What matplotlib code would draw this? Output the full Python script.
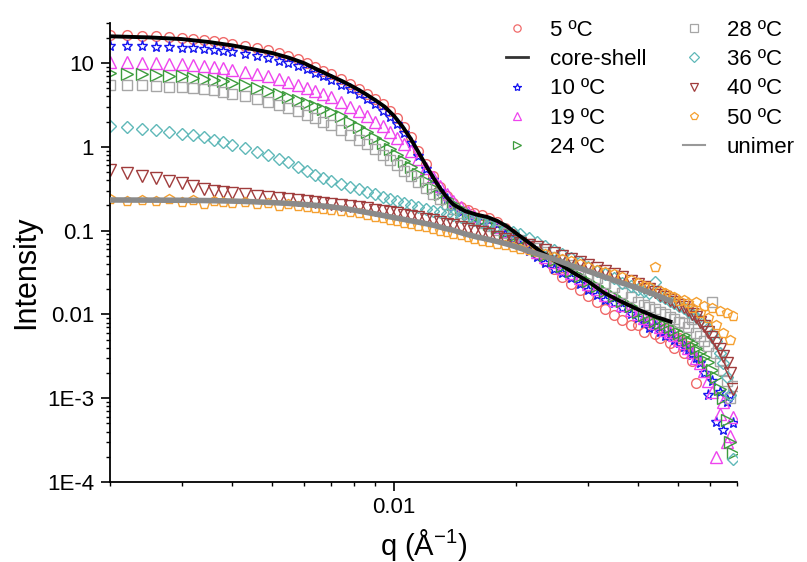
import numpy as np
import matplotlib
matplotlib.use('Agg')
import matplotlib.pyplot as plt
from matplotlib.lines import Line2D
from matplotlib.ticker import LogLocator, NullFormatter, FuncFormatter

plt.rcParams['font.family'] = ['Liberation Sans', 'DejaVu Sans']
plt.rcParams['mathtext.fontset'] = 'custom'
plt.rcParams['mathtext.rm'] = 'Liberation Sans'
plt.rcParams['mathtext.it'] = 'Liberation Sans:italic'

# q values of the measured points (1/A)
q_pts = [0.0020, 0.0022, 0.0024, 0.0026, 0.0028, 0.0030, 0.0032, 0.0034, 0.0036, 0.0038, 0.0040,
         0.0043, 0.0046, 0.0049, 0.0052, 0.0055, 0.0058, 0.0061, 0.0064, 0.0067, 0.0070,
         0.0074, 0.0078, 0.0082, 0.0086, 0.0090, 0.0094, 0.0098, 0.0102, 0.0106, 0.0110,
         0.0115, 0.0120, 0.0125, 0.0130, 0.0135, 0.0140, 0.0146, 0.0152, 0.0158, 0.0165,
         0.0172, 0.0180, 0.0188, 0.0196, 0.0205, 0.0215, 0.0225, 0.0236, 0.0248, 0.0260,
         0.0273, 0.0287, 0.0301, 0.0316, 0.0332, 0.0348, 0.0365, 0.0383,
         0.0400, 0.0413, 0.0426, 0.0439, 0.0452, 0.0465, 0.0478, 0.0491, 0.0504, 0.0517,
         0.0530, 0.0543, 0.0556, 0.0569, 0.0582, 0.0595, 0.0608, 0.0621, 0.0634, 0.0647,
         0.0660, 0.0673, 0.0686]

# intensities, one list per temperature
I_5 = [21.8, 21.5, 21.2, 20.9, 20.5, 20.1, 19.5, 18.9, 18.3, 17.6, 16.9,
       15.9, 15.0, 14.1, 13.2, 12.2, 11.1, 10.1, 9.0, 8.1, 7.3,
       6.4, 5.6, 4.9, 4.3, 3.7, 3.2, 2.7, 2.2, 1.72, 1.30,
       0.90, 0.63, 0.45, 0.33, 0.26, 0.215, 0.19, 0.175, 0.163, 0.152,
       0.140, 0.125, 0.108, 0.092, 0.076, 0.063, 0.052, 0.043, 0.035, 0.028,
       0.023, 0.0195, 0.0165, 0.014, 0.0115, 0.0098, 0.0085, 0.0074,
       0.0075, 0.0062, 0.0081, 0.0058, 0.0052, 0.0068, 0.0045, 0.0040, 0.0052, 0.0035,
       0.0042, 0.0028, 0.0015]

I_10 = [16.0, 15.9, 15.8, 15.6, 15.4, 15.2, 14.9, 14.6, 14.2, 13.8, 13.4,
        12.8, 12.1, 11.4, 10.7, 9.9, 9.1, 8.4, 7.6, 6.9, 6.3,
        5.5, 4.9, 4.3, 3.7, 3.2, 2.7, 2.25, 1.85, 1.45, 1.10,
        0.78, 0.55, 0.40, 0.30, 0.235, 0.195, 0.168, 0.152, 0.140, 0.130,
        0.118, 0.105, 0.092, 0.080, 0.068, 0.057, 0.048, 0.041, 0.035, 0.031,
        0.027, 0.023, 0.0195, 0.0172, 0.0150, 0.0135, 0.0118, 0.0100,
        0.0090, 0.0080, 0.0068, 0.0072, 0.0062, 0.0055, 0.0058, 0.0050, 0.0046, 0.0041,
        0.0038, 0.0033, 0.0030, 0.0026, 0.0020, 0.0011, 0.0016, 0.00052, 0.0012, 0.00042,
        0.0009, 0.0011, 0.0005]

I_19 = [10.3, 10.2, 10.1, 9.9, 9.8, 9.6, 9.4, 9.2, 8.9, 8.6, 8.3,
        7.9, 7.4, 6.9, 6.4, 5.9, 5.5, 5.0, 4.6, 4.25, 3.9,
        3.45, 3.0, 2.65, 2.3, 2.0, 1.78, 1.52, 1.28, 1.07, 0.88,
        0.72, 0.56, 0.44, 0.34, 0.27, 0.225, 0.19, 0.165, 0.148, 0.135,
        0.123, 0.110, 0.098, 0.087, 0.076, 0.065, 0.056, 0.048, 0.042, 0.036,
        0.031, 0.027, 0.023, 0.020, 0.0172, 0.0150, 0.0130, 0.0112,
        0.0100, 0.0090, 0.0085, 0.0078, 0.0070, 0.0066, 0.0061, 0.0057, 0.0050, 0.0046,
        0.0040, 0.0036, 0.0030, 0.0026, 0.0021, 0.0016, 0.0012, 0.0002, 0.00065, 0.0009,
        0.00030, 0.00035, 0.0006]

I_24 = [7.5, 7.4, 7.3, 7.2, 7.05, 6.9, 6.7, 6.5, 6.3, 6.05, 5.8,
        5.4, 5.0, 4.6, 4.25, 3.9, 3.6, 3.35, 3.1, 2.85, 2.6,
        2.3, 1.95, 1.72, 1.50, 1.28, 1.10, 0.93, 0.80, 0.68, 0.57,
        0.47, 0.39, 0.32, 0.27, 0.235, 0.205, 0.18, 0.16, 0.145, 0.132,
        0.12, 0.108, 0.097, 0.087, 0.077, 0.067, 0.059, 0.051, 0.044, 0.038,
        0.033, 0.029, 0.025, 0.022, 0.019, 0.0165, 0.0145, 0.0125,
        0.0108, 0.0098, 0.0092, 0.0084, 0.0080, 0.0076, 0.0070, 0.0065, 0.0060, 0.0056,
        0.0050, 0.0046, 0.0040, 0.0036, 0.0031, 0.0027, 0.0022, 0.0018, 0.0013, 0.0010,
        0.00055, 0.00030, 0.00022]

I_28 = [5.5, 5.45, 5.4, 5.3, 5.2, 5.1, 5.0, 4.85, 4.7, 4.5, 4.3,
        4.0, 3.75, 3.45, 3.15, 2.9, 2.65, 2.4, 2.2, 2.0, 1.82,
        1.6, 1.4, 1.22, 1.07, 0.93, 0.80, 0.70, 0.60, 0.52, 0.45,
        0.38, 0.32, 0.275, 0.235, 0.205, 0.18, 0.16, 0.145, 0.133, 0.122,
        0.112, 0.102, 0.093, 0.085, 0.077, 0.069, 0.062, 0.055, 0.049, 0.044,
        0.039, 0.034, 0.030, 0.027, 0.024, 0.021, 0.018, 0.016,
        0.0140, 0.0130, 0.0122, 0.0115, 0.0108, 0.0100, 0.0094, 0.0088, 0.0082, 0.0078,
        0.0070, 0.0087, 0.0060, 0.0055, 0.0048, 0.0042, 0.0140, 0.0035, 0.0028, 0.0022,
        0.0016, 0.0010, 0.0014]

I_36 = [1.75, 1.70, 1.63, 1.57, 1.50, 1.44, 1.38, 1.31, 1.22, 1.13, 1.05,
        0.96, 0.87, 0.79, 0.72, 0.65, 0.58, 0.52, 0.46, 0.42, 0.39,
        0.36, 0.33, 0.31, 0.29, 0.27, 0.255, 0.24, 0.225, 0.212, 0.200,
        0.19, 0.18, 0.172, 0.165, 0.158, 0.152, 0.146, 0.140, 0.134, 0.128,
        0.120, 0.112, 0.104, 0.097, 0.090, 0.082, 0.074, 0.066, 0.059, 0.053,
        0.047, 0.042, 0.037, 0.033, 0.030, 0.027, 0.024, 0.022,
        0.020, 0.019, 0.018, 0.0245, 0.0165, 0.0155, 0.0145, 0.0135, 0.0125, 0.0118,
        0.0110, 0.0100, 0.0092, 0.0085, 0.0076, 0.0068, 0.0058, 0.0048, 0.0035, 0.0026,
        0.0018, 0.0011, 0.00019]

I_40 = [0.53, 0.49, 0.45, 0.42, 0.39, 0.37, 0.345, 0.31, 0.30, 0.29, 0.28,
        0.27, 0.26, 0.25, 0.245, 0.24, 0.232, 0.226, 0.22, 0.215, 0.21,
        0.203, 0.197, 0.19, 0.184, 0.177, 0.172, 0.166, 0.160, 0.155, 0.150,
        0.144, 0.138, 0.132, 0.127, 0.121, 0.116, 0.110, 0.105, 0.100, 0.095,
        0.090, 0.085, 0.080, 0.076, 0.072, 0.067, 0.063, 0.058, 0.054, 0.050,
        0.046, 0.042, 0.039, 0.036, 0.033, 0.030, 0.028, 0.025,
        0.0230, 0.0215, 0.020, 0.0185, 0.0170, 0.0160, 0.0148, 0.0140, 0.0130, 0.0122,
        0.0112, 0.0102, 0.0092, 0.0082, 0.0072, 0.0062, 0.0054, 0.0046, 0.0039, 0.0032,
        0.0026, 0.0020, 0.0013]

I_50 = [0.235, 0.228, 0.232, 0.226, 0.235, 0.221, 0.230, 0.205, 0.226, 0.222, 0.215,
        0.220, 0.208, 0.212, 0.195, 0.205, 0.198, 0.192, 0.188, 0.183, 0.176,
        0.172, 0.165, 0.160, 0.152, 0.147, 0.140, 0.135, 0.130, 0.124, 0.119,
        0.114, 0.109, 0.104, 0.100, 0.096, 0.092, 0.088, 0.084, 0.080, 0.076,
        0.073, 0.070, 0.067, 0.064, 0.061, 0.058, 0.055, 0.052, 0.049, 0.046,
        0.043, 0.040, 0.037, 0.034, 0.032, 0.030, 0.028, 0.026,
        0.024, 0.022, 0.021, 0.037, 0.019, 0.018, 0.0165, 0.016, 0.0145, 0.015,
        0.0135, 0.0120, 0.0140, 0.0105, 0.0125, 0.0090, 0.0120, 0.0075, 0.0110, 0.0060,
        0.0105, 0.0050, 0.0095]

# model curves
q_fit = [0.0020, 0.0025, 0.0030, 0.0035, 0.0040, 0.0045, 0.0050, 0.0055, 0.0060, 0.0065,
         0.0070, 0.0075, 0.0080, 0.0085, 0.0090, 0.0095, 0.0100, 0.0105, 0.0110, 0.0115,
         0.0120, 0.0125, 0.0130, 0.0135, 0.0140, 0.0150, 0.0160, 0.0170, 0.0180, 0.0190,
         0.0200, 0.0215, 0.0230, 0.0250, 0.0275, 0.0300, 0.0330, 0.0360, 0.0400, 0.0440,
         0.0480]
core_shell = [20.8, 20.2, 19.3, 17.8, 16.2, 14.6, 13.2, 11.6, 10.0, 8.3,
              7.0, 6.0, 5.1, 4.3, 3.6, 3.0, 2.35, 1.75, 1.25, 0.86,
              0.60, 0.43, 0.32, 0.25, 0.205, 0.170, 0.155, 0.145, 0.130, 0.112,
              0.093, 0.072, 0.056, 0.043, 0.032, 0.025, 0.018, 0.0145, 0.0114, 0.0094,
              0.0082]
unimer = [0.232, 0.231, 0.230, 0.228, 0.225, 0.221, 0.216, 0.211, 0.205, 0.199,
          0.192, 0.184, 0.175, 0.166, 0.158, 0.150, 0.143, 0.137, 0.131, 0.126,
          0.121, 0.116, 0.110, 0.105, 0.101, 0.091, 0.084, 0.079, 0.074, 0.069,
          0.064, 0.057, 0.051, 0.045, 0.038, 0.033, 0.028, 0.0242, 0.0205, 0.0172,
          0.0145]

# label, data, marker, colour, marker size
series = [
    ('5 ºC', I_5, 'o', '#f06a6a', 7),
    ('10 ºC', I_10, '*', '#1515f0', 8),
    ('19 ºC', I_19, '^', '#ee44ee', 8.5),
    ('24 ºC', I_24, '>', '#3c9c3c', 8.5),
    ('28 ºC', I_28, 's', '#a6a6a6', 7),
    ('36 ºC', I_36, 'D', '#5fb8b8', 6.5),
    ('40 ºC', I_40, 'v', '#a03c3c', 8.5),
    ('50 ºC', I_50, 'p', '#f5a030', 7.5),
]

fig = plt.figure(figsize=(8.07, 5.62), dpi=100)
ax = fig.add_axes([110/807, 1-482/562, (737-110)/807, (482-23)/562])

handles = {}
for lab, y, mk, col, ms in series:
    n = min(len(q_pts), len(y))
    ax.plot(q_pts[:n], y[:n], ls='none', marker=mk, ms=ms, mfc='none',
            mec=col, mew=1.0)
    handles[lab] = Line2D([], [], ls='none', marker=mk, ms=ms*0.75, mfc='none',
                          mec=col, mew=0.9)

ax.plot(q_fit, core_shell, color='k', lw=2.8, zorder=5)
ax.plot(q_fit, unimer, color='#8a8a8a', lw=4, zorder=6)
handles['core-shell'] = Line2D([], [], color='#333333', lw=2)
handles['unimer'] = Line2D([], [], color='#999999', lw=1.5)

ax.set_xscale('log')
ax.set_yscale('log')
ax.set_xlim(0.002, 0.07)
ax.set_ylim(1e-4, 30)

ax.xaxis.set_major_locator(LogLocator(base=10, numticks=10))
ax.xaxis.set_minor_locator(LogLocator(base=10, subs=np.arange(2, 10), numticks=20))
ax.xaxis.set_minor_formatter(NullFormatter())
ax.xaxis.set_major_formatter(FuncFormatter(lambda v, p: '0.01' if abs(v - 0.01) < 1e-6 else ''))

ylabels = {1: '10', 0: '1', -1: '0.1', -2: '0.01', -3: '1E-3', -4: '1E-4'}
ax.yaxis.set_major_locator(LogLocator(base=10, numticks=10))
ax.yaxis.set_minor_locator(LogLocator(base=10, subs=np.arange(2, 10), numticks=20))
ax.yaxis.set_minor_formatter(NullFormatter())
ax.yaxis.set_major_formatter(FuncFormatter(lambda v, p: ylabels.get(int(round(np.log10(v))), '')))

ax.tick_params(which='major', direction='out', length=6.5, width=1.2, labelsize=16)
ax.tick_params(which='minor', direction='out', length=3.2, width=1.0)
ax.tick_params(axis='x', which='major', pad=4)
ax.tick_params(axis='y', which='major', pad=5)

for s in ['top', 'right']:
    ax.spines[s].set_visible(False)
for s in ['left', 'bottom']:
    ax.spines[s].set_linewidth(1.3)

ax.set_xlabel(r'q (Å$^{-1}$)', fontsize=21)
ax.xaxis.set_label_coords(0.5, -0.098)
ax.xaxis.label.set_va('top')
ax.set_ylabel('Intensity', fontsize=22)
ax.yaxis.set_label_coords(-0.110, 0.4575)

order = ['5 ºC', 'core-shell', '10 ºC', '19 ºC', '24 ºC',
         '28 ºC', '36 ºC', '40 ºC', '50 ºC', 'unimer']
ax.legend([handles[k] for k in order], order, ncol=2, loc='upper left',
          bbox_to_anchor=(506/807, 1-20/562), bbox_transform=fig.transFigure,
          frameon=False, fontsize=16, handlelength=1.0, handletextpad=1.0,
          columnspacing=1.6, labelspacing=0.37, borderpad=0, borderaxespad=0)

fig.savefig('out.png', dpi=100)
